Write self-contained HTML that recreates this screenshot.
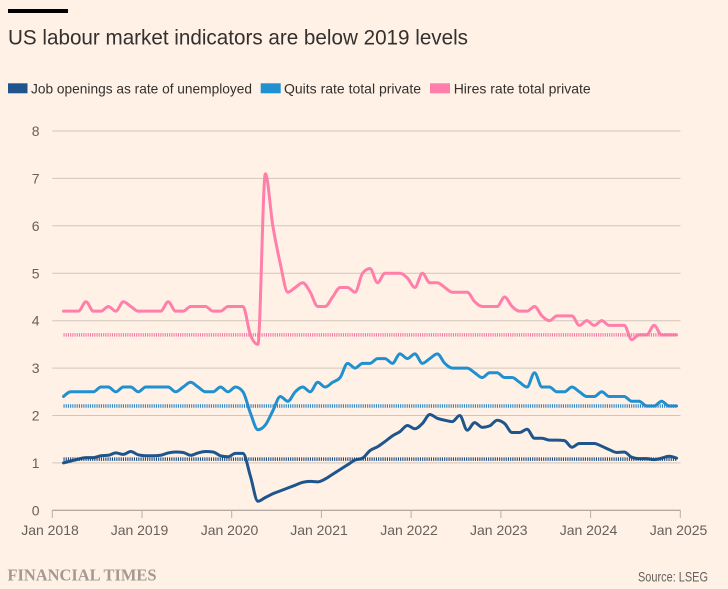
<!DOCTYPE html>
<html><head><meta charset="utf-8"><style>
html,body{margin:0;padding:0;background:#fff1e5;}
svg{display:block;}
text{font-family:"Liberation Sans",sans-serif;}
</style></head><body>
<svg id="chart" width="728" height="589" viewBox="0 0 728 589" xmlns="http://www.w3.org/2000/svg">
<rect x="0" y="0" width="728" height="589" fill="#fff1e5"/>
<rect x="8" y="9" width="60" height="4" fill="#000"/>
<text x="8" y="44.3" font-size="21" fill="#33302e" textLength="460" lengthAdjust="spacingAndGlyphs">US labour market indicators are below 2019 levels</text>

<!-- legend -->
<rect x="8" y="83.3" width="19.5" height="10" fill="#1e558c"/>
<text x="31" y="93.3" font-size="14" fill="#33302e" textLength="221" lengthAdjust="spacingAndGlyphs">Job openings as rate of unemployed</text>
<rect x="260.7" y="83.3" width="20" height="10" fill="#2190d0"/>
<text x="284" y="93.3" font-size="14" fill="#33302e" textLength="137" lengthAdjust="spacingAndGlyphs">Quits rate total private</text>
<rect x="430" y="83.3" width="20" height="10" fill="#ff7faa"/>
<text x="453.7" y="93.3" font-size="14" fill="#33302e" textLength="137" lengthAdjust="spacingAndGlyphs">Hires rate total private</text>

<!-- gridlines -->
<g stroke="#d2c5ba" stroke-width="1">
<line x1="52.3" x2="680.5" y1="131" y2="131"/>
<line x1="52.3" x2="680.5" y1="178.4" y2="178.4"/>
<line x1="52.3" x2="680.5" y1="225.8" y2="225.8"/>
<line x1="52.3" x2="680.5" y1="273.3" y2="273.3"/>
<line x1="52.3" x2="680.5" y1="320.7" y2="320.7"/>
<line x1="52.3" x2="680.5" y1="368.1" y2="368.1"/>
<line x1="52.3" x2="680.5" y1="415.5" y2="415.5"/>
<line x1="52.3" x2="680.5" y1="462.9" y2="462.9"/>
</g>
<line x1="52.3" x2="680.5" y1="510.3" y2="510.3" stroke="#9b918a" stroke-width="1"/>
<g stroke="#b9aea5" stroke-width="1">
<line x1="52.3" x2="52.3" y1="510" y2="518"/>
<line x1="142" x2="142" y1="510" y2="518"/>
<line x1="231.7" x2="231.7" y1="510" y2="518"/>
<line x1="321.4" x2="321.4" y1="510" y2="518"/>
<line x1="411.1" x2="411.1" y1="510" y2="518"/>
<line x1="500.9" x2="500.9" y1="510" y2="518"/>
<line x1="590.6" x2="590.6" y1="510" y2="518"/>
<line x1="680.3" x2="680.3" y1="510" y2="518"/>
</g>

<!-- y labels -->
<g font-size="14" fill="#66605c" text-anchor="end">
<text x="39.5" y="136">8</text>
<text x="39.5" y="183.4">7</text>
<text x="39.5" y="230.8">6</text>
<text x="39.5" y="278.3">5</text>
<text x="39.5" y="325.7">4</text>
<text x="39.5" y="373.1">3</text>
<text x="39.5" y="420.5">2</text>
<text x="39.5" y="467.9">1</text>
<text x="39.5" y="515.3">0</text>
</g>
<!-- x labels -->
<g font-size="14" fill="#66605c" text-anchor="middle">
<text x="50" y="535">Jan 2018</text>
<text x="139.5" y="535">Jan 2019</text>
<text x="229.5" y="535">Jan 2020</text>
<text x="319" y="535">Jan 2021</text>
<text x="409" y="535">Jan 2022</text>
<text x="498.8" y="535">Jan 2023</text>
<text x="588.5" y="535">Jan 2024</text>
<text x="678.5" y="535">Jan 2025</text>
</g>

<!-- series (fallback polylines) -->
<g id="series" transform="translate(56.04,510.3) scale(7.476,-47.41)" fill="none" stroke-width="3" stroke-linejoin="round" stroke-linecap="round">
<polyline class="ser" vector-effect="non-scaling-stroke" stroke="#2190d0" points="1,2.4 2,2.5 3,2.5 4,2.5 5,2.5 6,2.6 7,2.6 8,2.5 9,2.6 10,2.6 11,2.5 12,2.6 13,2.6 14,2.6 15,2.6 16,2.5 17,2.6 18,2.7 19,2.6 20,2.5 21,2.5 22,2.6 23,2.5 24,2.6 25,2.5 26,2.05 27,1.7 28,1.8 29,2.1 30,2.4 31,2.3 32,2.5 33,2.6 34,2.5 35,2.7 36,2.6 37,2.7 38,2.8 39,3.1 40,3.0 41,3.1 42,3.1 43,3.2 44,3.2 45,3.1 46,3.3 47,3.2 48,3.3 49,3.1 50,3.2 51,3.3 52,3.1 53,3.0 54,3.0 55,3.0 56,2.9 57,2.8 58,2.9 59,2.9 60,2.8 61,2.8 62,2.7 63,2.6 64,2.9 65,2.6 66,2.6 67,2.5 68,2.5 69,2.6 70,2.5 71,2.4 72,2.4 73,2.5 74,2.4 75,2.4 76,2.4 77,2.3 78,2.3 79,2.2 80,2.2 81,2.3 82,2.2 83,2.2"/>
<polyline class="ser" vector-effect="non-scaling-stroke" stroke="#ff7faa" points="1,4.2 2,4.2 3,4.2 4,4.4 5,4.2 6,4.2 7,4.3 8,4.2 9,4.4 10,4.3 11,4.2 12,4.2 13,4.2 14,4.2 15,4.4 16,4.2 17,4.2 18,4.3 19,4.3 20,4.3 21,4.2 22,4.2 23,4.3 24,4.3 25,4.3 26,3.7 27,3.5 28,7.1 29,6.0 30,5.2 31,4.6 32,4.7 33,4.8 34,4.6 35,4.3 36,4.3 37,4.5 38,4.7 39,4.7 40,4.6 41,5.0 42,5.1 43,4.8 44,5.0 45,5.0 46,5.0 47,4.9 48,4.7 49,5.0 50,4.8 51,4.8 52,4.7 53,4.6 54,4.6 55,4.6 56,4.4 57,4.3 58,4.3 59,4.3 60,4.5 61,4.3 62,4.2 63,4.2 64,4.3 65,4.1 66,4.0 67,4.1 68,4.1 69,4.1 70,3.9 71,4.0 72,3.9 73,4.0 74,3.9 75,3.9 76,3.9 77,3.6 78,3.7 79,3.7 80,3.9 81,3.7 82,3.7 83,3.7"/>
<polyline class="ser" vector-effect="non-scaling-stroke" stroke="#1e558c" points="1,1.00 2,1.04 3,1.08 4,1.11 5,1.11 6,1.15 7,1.16 8,1.21 9,1.18 10,1.24 11,1.17 12,1.15 13,1.15 14,1.16 15,1.21 16,1.23 17,1.22 18,1.16 19,1.21 20,1.24 21,1.23 22,1.15 23,1.13 24,1.20 25,1.20 26,0.72 27,0.19 28,0.27 29,0.35 30,0.41 31,0.47 32,0.53 33,0.59 34,0.61 35,0.60 36,0.66 37,0.76 38,0.86 39,0.96 40,1.06 41,1.10 42,1.26 43,1.34 44,1.45 45,1.57 46,1.66 47,1.79 48,1.72 49,1.83 50,2.02 51,1.94 52,1.90 53,1.87 54,2.00 55,1.69 56,1.85 57,1.75 58,1.78 59,1.90 60,1.83 61,1.64 62,1.64 63,1.71 64,1.52 65,1.52 66,1.48 67,1.48 68,1.47 69,1.33 70,1.41 71,1.41 72,1.41 73,1.35 74,1.28 75,1.22 76,1.23 77,1.12 78,1.09 79,1.09 80,1.07 81,1.10 82,1.14 83,1.10"/>
</g>
<g id="curves" fill="none" stroke-width="3" stroke-linejoin="round" stroke-linecap="round"></g>

<!-- 2019 reference dotted lines -->
<g stroke-width="3.5" stroke-dasharray="1.1 1.1" fill="none">
<line x1="63.5" x2="676.6" y1="334.9" y2="334.9" stroke="#f37aa5"/>
<line x1="63.5" x2="676.6" y1="406" y2="406" stroke="#2a86c2"/>
<line x1="63.5" x2="676.6" y1="459.1" y2="459.1" stroke="#1c4a7c"/>
</g>

<!-- footer -->
<text x="7.5" y="580.7" font-weight="bold" font-size="16.5" fill="#a39990" textLength="149" lengthAdjust="spacingAndGlyphs" style="font-family:'Liberation Serif',serif">FINANCIAL TIMES</text>
<text x="708" y="581.7" font-size="14" fill="#66605c" text-anchor="end" textLength="70" lengthAdjust="spacingAndGlyphs">Source: LSEG</text>
</svg>
<script>
(function(){
  var ns="http://www.w3.org/2000/svg";
  var curves=document.getElementById("curves");
  var pls=document.querySelectorAll("polyline.ser");
  function sign(x){return x<0?-1:1;}
  for(var k=0;k<pls.length;k++){
    var pl=pls[k];
    var raw=pl.getAttribute("points").trim().split(/\s+/);
    var X=[],Y=[];
    for(var i=0;i<raw.length;i++){
      var p=raw[i].split(",");
      X.push(56.04+7.476*parseFloat(p[0]));
      Y.push(510.3-47.41*parseFloat(p[1]));
    }
    var n=X.length,t=new Array(n);
    for(i=1;i<n-1;i++){
      var h0=X[i]-X[i-1],h1=X[i+1]-X[i];
      var s0=(Y[i]-Y[i-1])/h0,s1=(Y[i+1]-Y[i])/h1;
      var pp=(s0*h1+s1*h0)/(h0+h1);
      t[i]=(sign(s0)+sign(s1))*Math.min(Math.abs(s0),Math.abs(s1),0.5*Math.abs(pp))||0;
    }
    t[0]=(3*(Y[1]-Y[0])/(X[1]-X[0])-t[1])/2;
    t[n-1]=(3*(Y[n-1]-Y[n-2])/(X[n-1]-X[n-2])-t[n-2])/2;
    var d="M"+X[0].toFixed(2)+","+Y[0].toFixed(2);
    for(i=0;i<n-1;i++){
      var dx=(X[i+1]-X[i])/3;
      d+="C"+(X[i]+dx).toFixed(2)+","+(Y[i]+dx*t[i]).toFixed(2)+" "+
         (X[i+1]-dx).toFixed(2)+","+(Y[i+1]-dx*t[i+1]).toFixed(2)+" "+
         X[i+1].toFixed(2)+","+Y[i+1].toFixed(2);
    }
    var path=document.createElementNS(ns,"path");
    path.setAttribute("d",d);
    path.setAttribute("stroke",pl.getAttribute("stroke"));
    curves.appendChild(path);
    pl.style.display="none";
  }
})();
</script>
</body></html>
